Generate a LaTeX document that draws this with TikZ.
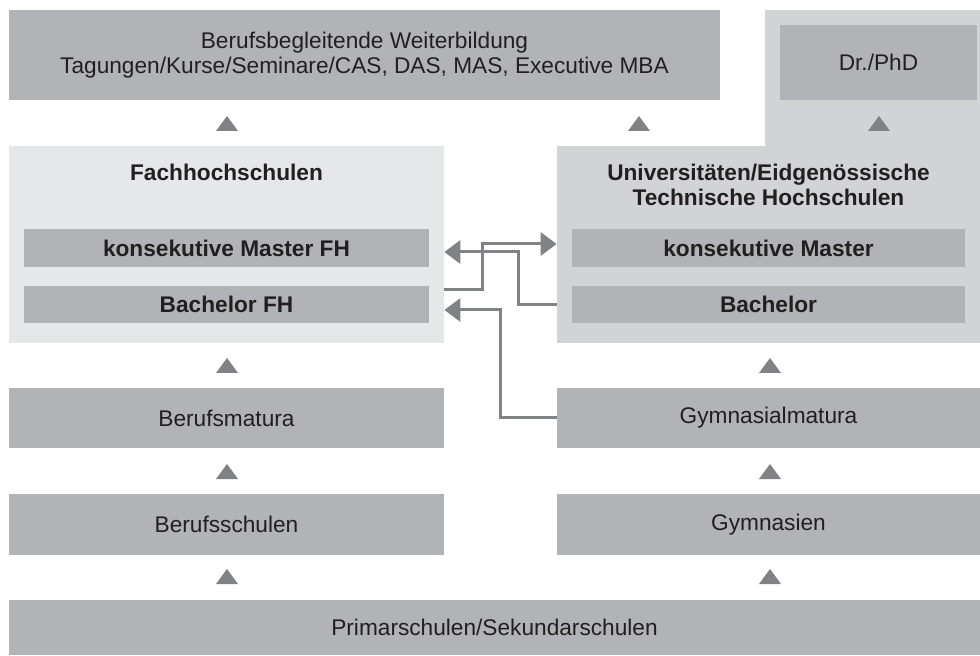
\documentclass[tikz,border=0pt]{standalone}
\usepackage{fontspec}
\setmainfont{Liberation Sans}
\usetikzlibrary{arrows.meta, calc}
\definecolor{boxgray}{HTML}{B1B3B6}
\definecolor{fhgray}{HTML}{E6E7E8}
\definecolor{unigray}{HTML}{D1D3D4}
\definecolor{markgray}{HTML}{808285}
\definecolor{textblack}{HTML}{231F20}

\begin{document}
\begin{tikzpicture}[
	font=\fontsize{12.9}{14.2}\selectfont,
	box/.style={fill=boxgray, text=textblack, inner sep=0pt, align=center},
	back/.style={inner sep=0pt},
	bold/.style={font=\fontsize{12.9}{14.2}\selectfont\bfseries, text=textblack, align=center},
	tri/.style={fill=markgray},
	link/.style={draw=markgray, line width=0.06cm, -{Triangle[length=0.32cm, width=0.46cm]}}
	]
	\useasboundingbox (0,0) rectangle (19.6,13.1);
	
	% Hintergrund
	\fill[unigray] (15.3,10.1) rectangle (19.6,12.9);
	\node[back, fill=unigray, minimum width=8.46cm, minimum height=3.94cm] (uni) at (15.37,8.21) {};
	\node[back, fill=fhgray, minimum width=8.7cm, minimum height=3.94cm] (fh) at (4.53,8.21) {};
	
	% oben
	\node[box, minimum width=14.22cm, minimum height=1.8cm] (weiter) at (7.29,12.0) {Berufsbegleitende Weiterbildung\\Tagungen/Kurse/Seminare/CAS, DAS, MAS, Executive MBA};
	\node[box, minimum width=3.94cm, minimum height=1.5cm] (phd) at (17.57,11.85) {Dr./PhD};
	
	% Hochschulen
	\node[bold] (fhtitle) at (4.53,9.66) {Fachhochschulen};
	\node[bold] (unititle) at (15.37,9.4) {Universitäten/Eidgenössische\\Technische Hochschulen};
	\node[box, bold, minimum width=8.1cm, minimum height=0.76cm] (fmaster) at (4.53,8.14) {konsekutive Master FH};
	\node[box, bold, minimum width=8.1cm, minimum height=0.74cm] (fbachelor) at (4.53,7.01) {Bachelor FH};
	\node[box, bold, minimum width=7.86cm, minimum height=0.76cm] (umaster) at (15.37,8.14) {konsekutive Master};
	\node[box, bold, minimum width=7.86cm, minimum height=0.74cm] (ubachelor) at (15.37,7.01) {Bachelor};
	
	% Matura und Schulen
	\node[box, minimum width=8.7cm, minimum height=1.2cm] (bmatura) at (4.53,4.74) {Berufsmatura};
	\node[box, minimum width=8.46cm, minimum height=1.2cm] (gmatura) at (15.37,4.74) {Gymnasialmatura};
	\node[box, minimum width=8.7cm, minimum height=1.22cm] (bschulen) at (4.53,2.61) {Berufsschulen};
	\node[box, minimum width=8.46cm, minimum height=1.22cm] (gymnasien) at (15.37,2.61) {Gymnasien};
	\node[box, minimum width=19.42cm, minimum height=1.1cm] (primar) at (9.89,0.55) {Primarschulen/Sekundarschulen};
	
	% Dreiecke
	\fill[tri] (4.32,10.48) -- (4.76,10.48) -- (4.54,10.78) -- cycle;
	\fill[tri] (12.56,10.48) -- (13.0,10.48) -- (12.78,10.78) -- cycle;
	\fill[tri] (17.36,10.48) -- (17.8,10.48) -- (17.58,10.78) -- cycle;
	\fill[tri] (4.32,5.64) -- (4.76,5.64) -- (4.54,5.94) -- cycle;
	\fill[tri] (15.18,5.64) -- (15.62,5.64) -- (15.4,5.94) -- cycle;
	\fill[tri] (4.32,3.52) -- (4.76,3.52) -- (4.54,3.82) -- cycle;
	\fill[tri] (15.18,3.52) -- (15.62,3.52) -- (15.4,3.82) -- cycle;
	\fill[tri] (4.32,1.42) -- (4.76,1.42) -- (4.54,1.72) -- cycle;
	\fill[tri] (15.18,1.42) -- (15.62,1.42) -- (15.4,1.72) -- cycle;
	
	% Uebergaenge
	\coordinate (a1) at ($(fh.east |- fbachelor)+(0,0.29)$);
	\coordinate (a2) at ($(uni.west |- umaster)+(0,0.08)$);
	\coordinate (b1) at (uni.west |- ubachelor);
	\coordinate (b2) at ($(fh.east |- fmaster)+(0,-0.08)$);
	\coordinate (c1) at (uni.west |- gmatura);
	\coordinate (c2) at ($(fh.east |- fbachelor)+(0,-0.11)$);
	\draw[link] (a1) -- ++(0.76,0) |- (a2);
	\draw[link] (b1) -- ++(-0.76,0) |- (b2);
	\draw[link] (c1) -- ++(-1.12,0) |- (c2);
\end{tikzpicture}
\end{document}
